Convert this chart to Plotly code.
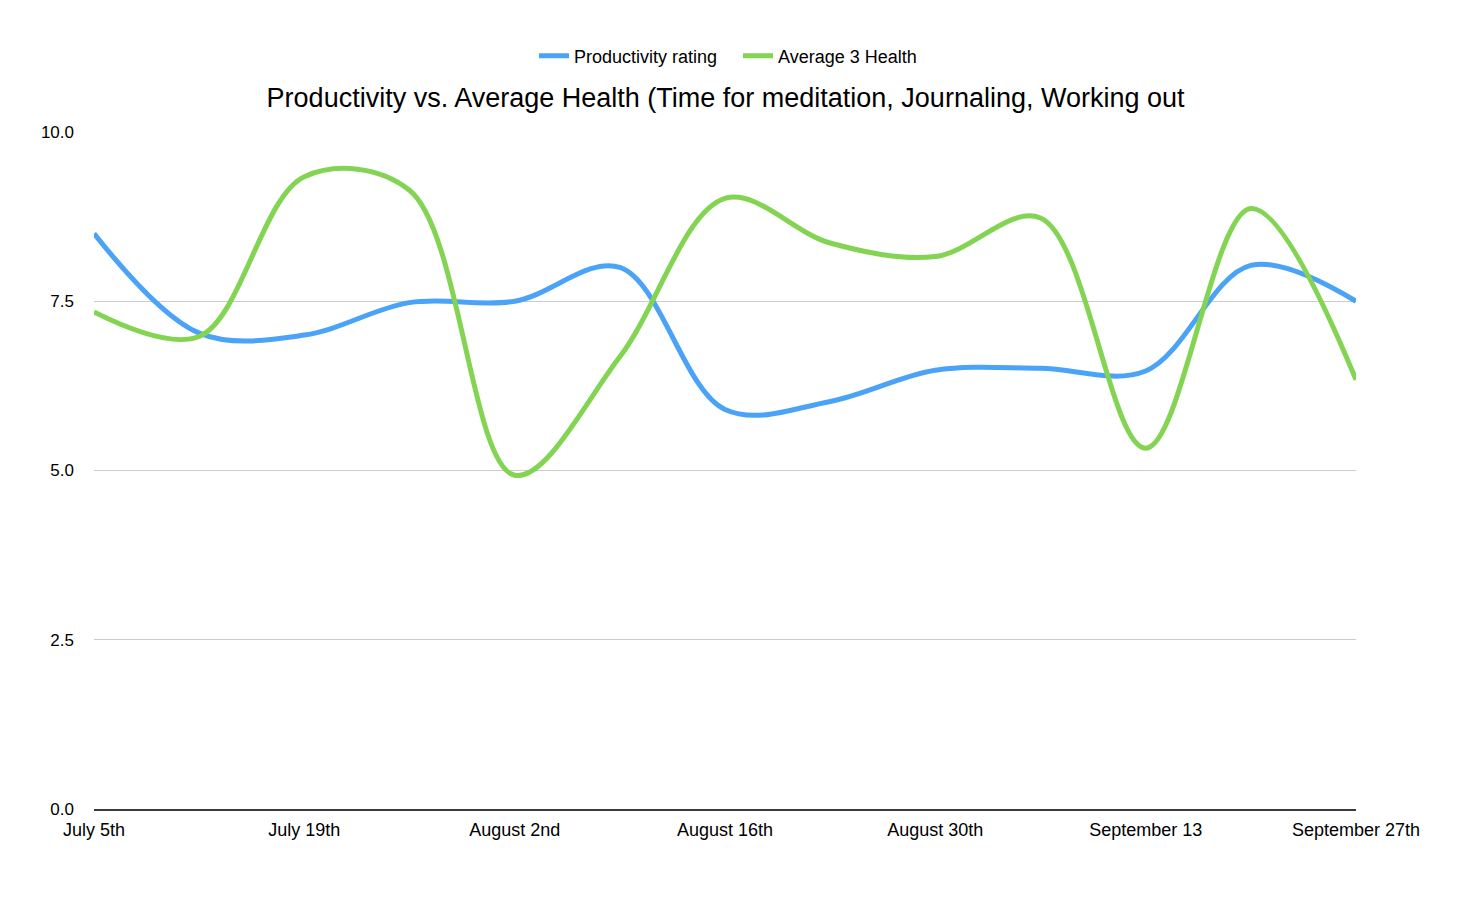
"""plot.py - productivity vs. average health, smoothed weekly lines."""

import plotly.graph_objects as go

weeks = [
    "July 5th", "July 12th", "July 19th", "July 26th", "August 2nd",
    "August 9th", "August 16th", "August 23rd", "August 30th",
    "September 6th", "September 13", "September 20th", "September 27th",
]
productivity = [8.5, 7.03, 7.0, 7.48, 7.5, 8.0, 5.9, 6.02, 6.48, 6.51, 6.47, 8.03, 7.5]
health = [7.34, 6.98, 9.34, 9.14, 4.93, 6.68, 9.02, 8.36, 8.16, 8.73, 5.33, 8.87, 6.34]

shown_ticks = [
    "July 5th", "July 19th", "August 2nd", "August 16th",
    "August 30th", "September 13", "September 27th",
]
y_ticks = [0, 2.5, 5, 7.5, 10]

fig = go.Figure()
fig.add_trace(go.Scatter(
    x=weeks, y=productivity, name="Productivity rating", mode="lines",
    line=dict(color="#4aa3f7", width=5, shape="spline", smoothing=1.0),
))
fig.add_trace(go.Scatter(
    x=weeks, y=health, name="Average 3 Health", mode="lines",
    line=dict(color="#83d453", width=5, shape="spline", smoothing=1.0),
))

# page has an 8px body offset, so margins are pulled in by 8px
fig.update_layout(
    width=1478,
    height=908,
    paper_bgcolor="white",
    plot_bgcolor="white",
    font=dict(family="Liberation Sans, Arial, sans-serif", size=18, color="black"),
    margin=dict(l=86, r=130, t=124, b=107),
    title=dict(
        text="Productivity vs. Average Health (Time for meditation, Journaling, Working out",
        x=0.4855, xanchor="center", y=1 - 90 / 908, yanchor="middle",
        font=dict(size=27, color="black"),
    ),
    legend=dict(
        orientation="h", x=0.5103, xanchor="center", y=1.1123, yanchor="middle",
        font=dict(size=18), itemwidth=30, entrywidth=159, traceorder="normal",
    ),
    showlegend=True,
)
fig.update_xaxes(
    type="category", range=[0, len(weeks) - 1],
    tickvals=shown_ticks, ticktext=shown_ticks, tickfont=dict(size=18),
    showgrid=False, showline=True, linecolor="#3a3a3a", linewidth=2,
    ticks="", ticklabelstandoff=3, zeroline=False,
)
fig.update_yaxes(
    range=[0, 10], tickvals=y_ticks,
    ticktext=[f"{v:.1f}" for v in y_ticks], tickfont=dict(size=17),
    showgrid=True, gridcolor="#cccccc", gridwidth=1,
    zeroline=False, showline=False, ticks="", ticklabelstandoff=19,
)

fig.write_html("out.html")
